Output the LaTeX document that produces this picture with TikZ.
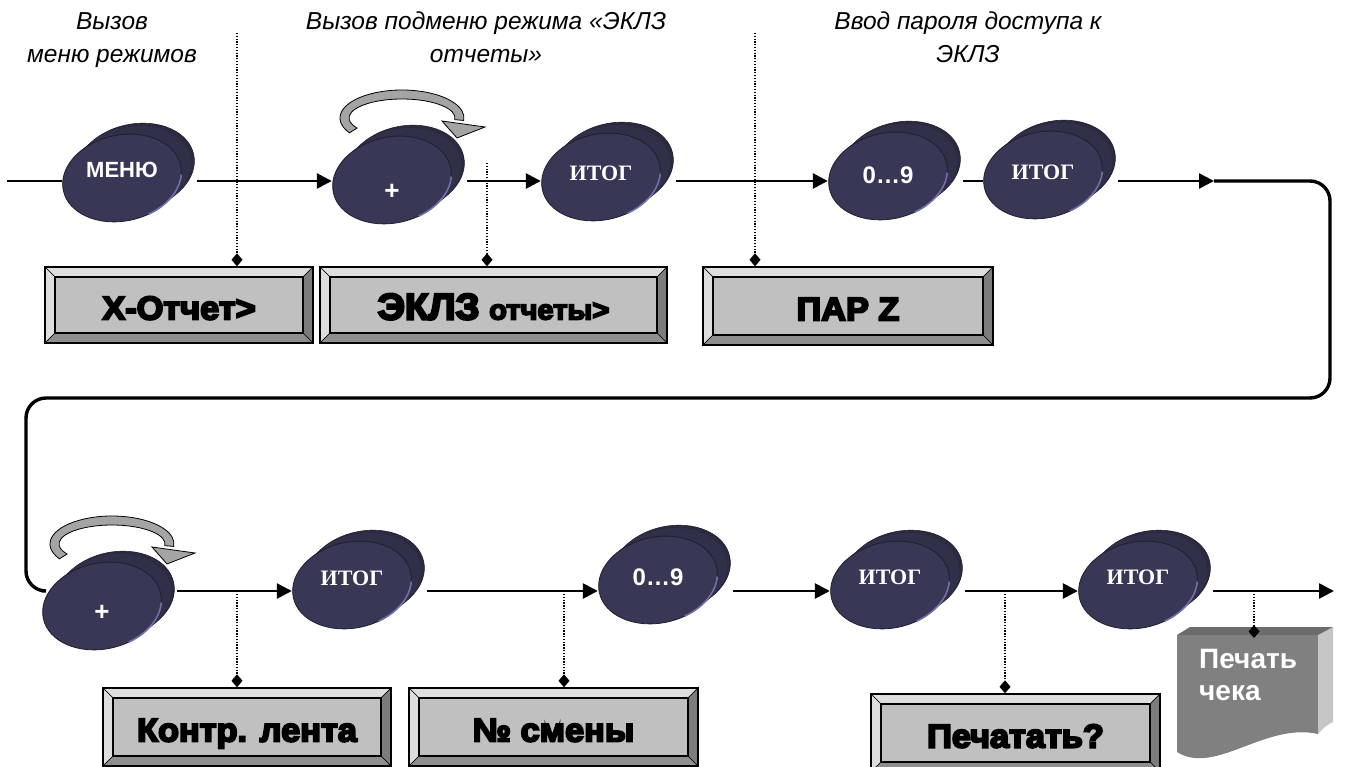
\documentclass[tikz,border=0pt]{standalone}
\usepackage{fontspec}
\setmainfont{Liberation Sans}
\newfontfamily\heavyfont{Liberation Sans Bold}[FakeBold=6,FakeStretch=1.04]
\newfontfamily\tnrfont{Liberation Serif}
\usetikzlibrary{arrows.meta,shapes.geometric}

\definecolor{coinfront}{HTML}{383856}
\definecolor{coinback}{HTML}{2A2A40}
\definecolor{coinside}{HTML}{303049}
\definecolor{coinrim}{HTML}{1E1E2C}
\definecolor{coinedge}{HTML}{7070AA}
\definecolor{boxgray}{HTML}{C0C0C0}
\definecolor{bevlight}{HTML}{DEDEDE}
\definecolor{bevdark}{HTML}{7C7C7C}
\definecolor{bevmid}{HTML}{8E8E8E}
\definecolor{arrowgray}{HTML}{A4A4A4}
\definecolor{docbody}{HTML}{808080}
\definecolor{docside}{HTML}{C6C6C6}
\definecolor{doctop}{HTML}{6C6C6C}

\newcommand\coin[5]{%
  \pic at (#2,#3) {coin};
  \node[coinlabel] (#1) at (#2,#4) {#5};
  \coordinate (#1-out) at ({#2+75},#4);
}

\tikzset{
  pics/coin/.style={code={
    \begin{scope}[rotate=12]
      \filldraw[fill=coinback, draw=coinrim, line width=0.6pt] (15,-8) ellipse[x radius=60, y radius=43];
      \foreach \t in {0.25,0.5,0.75}{\fill[coinside] ({15*\t},{-8*\t}) ellipse[x radius=60, y radius=43];}
      \filldraw[fill=coinfront, draw=coinrim, line width=0.8pt] (0,0) ellipse[x radius=60, y radius=43];
      \draw[coinedge, line width=1.6pt] (12:60 and 43) arc[start angle=12, end angle=72, x radius=60, y radius=43];
    \end{scope}
  }},
  coinlabel/.style={text=white, inner sep=0pt, minimum width=120pt, minimum height=20pt},
  flow/.style={line width=2.6pt, black},
  flowtip/.style={-{Triangle[length=15pt,width=15pt]}},
  loopline/.style={line width=3.4pt, black, rounded corners=20pt},
  dotline/.style={line width=1.3pt, black, dash pattern=on 1.3pt off 1.5pt, -{Diamond[length=13pt,width=11pt]}},
  toplabel/.style={font=\itshape\fontsize{24.5}{33}\selectfont, align=center, inner sep=0pt, anchor=north},
  bevelbox/.style={draw=black, line width=1.4pt, fill=boxgray, inner sep=0pt,
    text height=29pt, text depth=0pt,
    font=\heavyfont\fontsize{33}{38}\selectfont,
    path picture={
      \def\pb{path picture bounding box}
      \filldraw[fill=bevlight, draw=black, line width=0.6pt] (\pb.north west) -- (\pb.north east) -- ([shift={(-10pt,-10pt)}]\pb.north east) -- ([shift={(10pt,-10pt)}]\pb.north west) -- cycle;
      \filldraw[fill=bevlight, draw=black, line width=0.6pt] (\pb.north west) -- ([shift={(10pt,-10pt)}]\pb.north west) -- ([shift={(10pt,10pt)}]\pb.south west) -- (\pb.south west) -- cycle;
      \filldraw[fill=bevdark, draw=black, line width=0.6pt] (\pb.north east) -- (\pb.south east) -- ([shift={(-10pt,10pt)}]\pb.south east) -- ([shift={(-10pt,-10pt)}]\pb.north east) -- cycle;
      \filldraw[fill=bevmid, draw=black, line width=0.6pt] (\pb.south west) -- ([shift={(10pt,10pt)}]\pb.south west) -- ([shift={(-10pt,10pt)}]\pb.south east) -- (\pb.south east) -- cycle;
      \draw[line width=1.4pt] ([shift={(10pt,-10pt)}]\pb.north west) rectangle ([shift={(-10pt,10pt)}]\pb.south east);
    }},
  turnarrow/.style={fill=arrowgray, draw=black, line width=0.8pt},
}

\begin{document}
\begin{tikzpicture}[x=1pt, y=-1pt]
\useasboundingbox (0,0) rectangle (1346,767);

% top labels
\node[toplabel] (l1) at (112,12) {Вызов\\меню режимов};
\node[toplabel] (l2) at (486,12) {Вызов подменю режима «ЭКЛЗ\\отчеты»};
\node[toplabel] (l3) at (968,12) {Ввод пароля доступа к\\ЭКЛЗ};

% rotating arrows
\begin{scope}[shift={(402,118)}]
  \filldraw[turnarrow] (148:62 and 28) arc[start angle=148, end angle=365, x radius=62, y radius=28]
     -- (365:53 and 19) arc[start angle=365, end angle=148, x radius=53, y radius=19] -- cycle;
  \filldraw[turnarrow] (40,3) -- (83,9) -- (55,20) -- cycle;
\end{scope}
\begin{scope}[shift={(112,544)}]
  \filldraw[turnarrow] (148:62 and 28) arc[start angle=148, end angle=365, x radius=62, y radius=28]
     -- (365:53 and 19) arc[start angle=365, end angle=148, x radius=53, y radius=19] -- cycle;
  \filldraw[turnarrow] (40,3) -- (83,9) -- (55,20) -- cycle;
\end{scope}

% coins, top row
\coin{m1}{122}{178}{170}{\bfseries\fontsize{22}{24}\selectfont МЕНЮ}
\coin{p1}{392}{180}{192}{\bfseries\fontsize{26}{28}\selectfont +}
\coin{i1}{601}{177}{173}{\tnrfont\bfseries\fontsize{22}{24}\selectfont ИТОГ}
\coin{n1}{888}{176}{175}{\bfseries\fontsize{24}{26}\selectfont 0…9}
\coin{i2}{1043}{175}{172}{\tnrfont\bfseries\fontsize{22}{24}\selectfont ИТОГ}
% coins, bottom row
\coin{p2}{102}{606}{613}{\bfseries\fontsize{26}{28}\selectfont +}
\coin{i3}{352}{585}{578}{\tnrfont\bfseries\fontsize{22}{24}\selectfont ИТОГ}
\coin{n2}{658}{580}{577}{\bfseries\fontsize{24}{26}\selectfont 0…9}
\coin{i4}{890}{585}{577}{\tnrfont\bfseries\fontsize{22}{24}\selectfont ИТОГ}
\coin{i5}{1138}{585}{577}{\tnrfont\bfseries\fontsize{22}{24}\selectfont ИТОГ}

% row coordinates
\coordinate (r1) at (0,181);
\coordinate (r2) at (0,591);
\coordinate (s0) at (7,181);
\coordinate (a1) at (1214,181);
\coordinate (tr) at (1330,181);
\coordinate (br) at (1330,398);
\coordinate (bl) at (26,398);
\coordinate (ll) at (26,591);
\coordinate (e1) at (1334,591);

% connectors top row
\draw[flow] (s0) -- (m1.west |- r1);
\draw[flow, flowtip] (m1-out |- r1) -- (p1.west |- r1);
\draw[flow, flowtip] (p1-out |- r1) -- (i1.west |- r1);
\draw[flow, flowtip] (i1-out |- r1) -- (n1.west |- r1);
\draw[flow] (n1-out |- r1) -- (i2.west |- r1);
\draw[flow, flowtip] (i2-out |- r1) -- (a1);
\draw[loopline] (a1) -- (tr) -- (br) -- (bl) -- (ll) -- (p2.west |- r2);
% connectors bottom row
\draw[flow, flowtip] (p2-out |- r2) -- (i3.west |- r2);
\draw[flow, flowtip] (i3-out |- r2) -- (n2.west |- r2);
\draw[flow, flowtip] (n2-out |- r2) -- (i4.west |- r2);
\draw[flow, flowtip] (i4-out |- r2) -- (i5.west |- r2);
\draw[flow, flowtip] (i5-out |- r2) -- (e1);

% boxes
\node[bevelbox, minimum width=268pt, minimum height=76pt] (b1) at (179,305) {X-Отчет>};
\node[bevelbox, minimum width=347pt, minimum height=76pt] (b2) at (493.5,305) {{\fontsize{37}{40}\selectfont ЭКЛЗ} {\fontsize{28}{32}\selectfont отчеты>}};
\node[bevelbox, minimum width=290pt, minimum height=78pt] (b3) at (848,306) {ПАР Z};
\node[bevelbox, minimum width=288pt, minimum height=78pt] (b4) at (247,727) {Контр. лента};
\node[bevelbox, minimum width=289pt, minimum height=78pt] (b5) at (553.5,727) {№ смены};
\node[bevelbox, minimum width=289pt, minimum height=78pt] (b6) at (1015.5,733) {Печатать?};

% document shape
\fill[docbody] (1177,635) -- (1318,635) -- (1318,734) .. controls (1265,722) and (1215,776) .. (1177,752) -- cycle;
\fill[docside] (1318,635) -- (1333,627) -- (1333,722) .. controls (1328,724) and (1322,729) .. (1318,734) -- cycle;
\fill[doctop] (1177,635) -- (1190,627) -- (1333,627) -- (1318,635) -- cycle;
\node[anchor=north west, inner sep=0pt, align=left, text=white, font=\bfseries\fontsize{28}{32}\selectfont] (pc) at (1199,649) {Печать\\чека};
\coordinate (dt) at (1254,638);

% dotted leaders
\coordinate (d1) at (237,33);
\coordinate (d2) at (487,163);
\coordinate (d3) at (755,33);
\coordinate (d4) at (237,594);
\coordinate (d5) at (564,594);
\coordinate (d6) at (1005,594);
\coordinate (d7) at (1254,594);
\draw[dotline] (d1) -- (d1 |- b1.north);
\draw[dotline] (d2) -- (d2 |- b2.north);
\draw[dotline] (d3) -- (d3 |- b3.north);
\draw[dotline] (d4) -- (d4 |- b4.north);
\draw[dotline] (d5) -- (d5 |- b5.north);
\draw[dotline] (d6) -- (d6 |- b6.north);
\draw[dotline] (d7) -- (dt);
\end{tikzpicture}
\end{document}
